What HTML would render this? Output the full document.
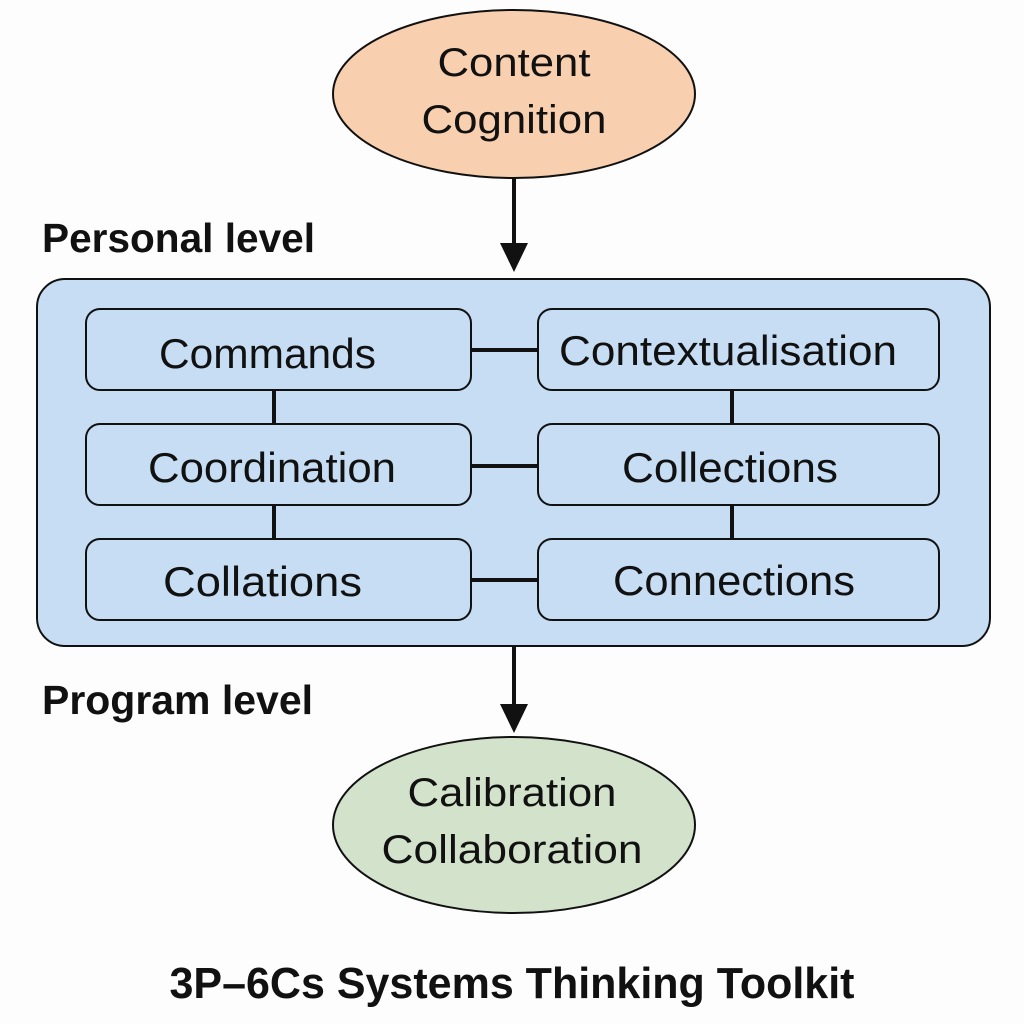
<!DOCTYPE html>
<html><head><meta charset="utf-8"><style>html,body{margin:0;padding:0;background:#fdfdfd}svg{display:block}</style></head>
<body>
<svg width="1024" height="1024" viewBox="0 0 1024 1024" xmlns="http://www.w3.org/2000/svg" font-family="Liberation Sans, sans-serif">
<rect width="1024" height="1024" fill="#fdfdfd"/>
<ellipse cx="514" cy="94" rx="181" ry="84" fill="#f8d0b0" stroke="#111" stroke-width="2"/>
<text x="514" y="76" font-size="40" text-anchor="middle" textLength="153" lengthAdjust="spacingAndGlyphs" fill="#111">Content</text>
<text x="514" y="133" font-size="40" text-anchor="middle" textLength="185" lengthAdjust="spacingAndGlyphs" fill="#111">Cognition</text>
<line x1="514" y1="178" x2="514" y2="248" stroke="#111" stroke-width="4"/>
<polygon points="500,243 528,243 514,272" fill="#111"/>
<text x="42" y="252" font-size="41" font-weight="bold" textLength="273" lengthAdjust="spacingAndGlyphs" fill="#111">Personal level</text>
<rect x="37" y="279" width="953" height="367" rx="28" fill="#c6ddf3" stroke="#111" stroke-width="2"/>
<g stroke="#111" stroke-width="4">
<line x1="471" y1="350" x2="538" y2="350"/><line x1="471" y1="466" x2="538" y2="466"/><line x1="471" y1="580" x2="538" y2="580"/>
<line x1="274" y1="390" x2="274" y2="424"/><line x1="274" y1="505" x2="274" y2="539"/>
<line x1="732" y1="390" x2="732" y2="424"/><line x1="732" y1="505" x2="732" y2="539"/>
</g>
<g fill="#c6ddf3" stroke="#111" stroke-width="2">
<rect x="86" y="309" width="385" height="81" rx="14"/><rect x="538" y="309" width="401" height="81" rx="14"/>
<rect x="86" y="424" width="385" height="81" rx="14"/><rect x="538" y="424" width="401" height="81" rx="14"/>
<rect x="86" y="539" width="385" height="81" rx="14"/><rect x="538" y="539" width="401" height="81" rx="14"/>
</g>
<g font-size="42" fill="#111">
<text x="159" y="368" textLength="217" lengthAdjust="spacingAndGlyphs">Commands</text>
<text x="559" y="365" textLength="338" lengthAdjust="spacingAndGlyphs">Contextualisation</text>
<text x="148" y="482" textLength="248" lengthAdjust="spacingAndGlyphs">Coordination</text>
<text x="622" y="482" textLength="216" lengthAdjust="spacingAndGlyphs">Collections</text>
<text x="163" y="596" textLength="199" lengthAdjust="spacingAndGlyphs">Collations</text>
<text x="613" y="595" textLength="242" lengthAdjust="spacingAndGlyphs">Connections</text>
</g>
<line x1="514" y1="646" x2="514" y2="710" stroke="#111" stroke-width="4"/>
<polygon points="500,704 528,704 514,733" fill="#111"/>
<text x="42" y="714" font-size="41" font-weight="bold" textLength="271" lengthAdjust="spacingAndGlyphs" fill="#111">Program level</text>
<ellipse cx="514" cy="825" rx="181" ry="88" fill="#d3e3cb" stroke="#111" stroke-width="2"/>
<text x="512" y="806" font-size="40" text-anchor="middle" textLength="209" lengthAdjust="spacingAndGlyphs" fill="#111">Calibration</text>
<text x="512" y="863" font-size="40" text-anchor="middle" textLength="261" lengthAdjust="spacingAndGlyphs" fill="#111">Collaboration</text>
<text x="512" y="998" font-size="44" font-weight="bold" text-anchor="middle" textLength="685" lengthAdjust="spacingAndGlyphs" fill="#111">3P–6Cs Systems Thinking Toolkit</text>
</svg>
</body></html>
